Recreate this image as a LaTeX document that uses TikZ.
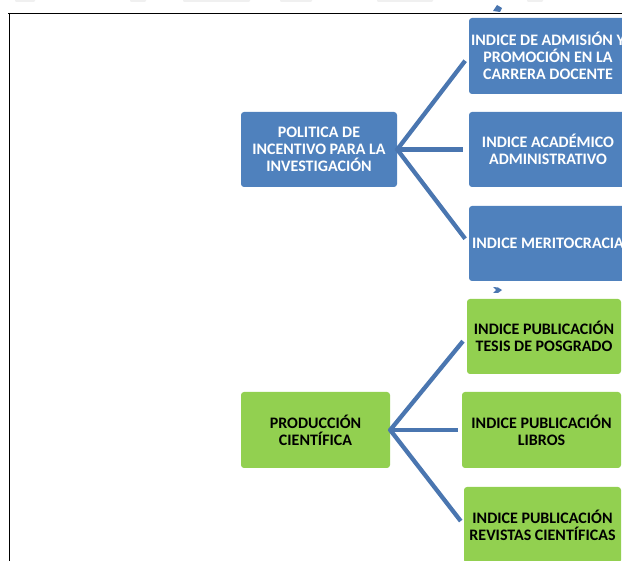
\documentclass[tikz,border=0pt]{standalone}
\usepackage{fontspec}
\setmainfont{Carlito}
\definecolor{boxblue}{HTML}{4F81BD}
\definecolor{boxgreen}{HTML}{92D050}
\definecolor{lineblue}{HTML}{4A76B0}
\tikzset{
  base/.style={rounded corners=3pt, align=center, inner sep=0pt,
    font=\fontsize{16}{17.2}\selectfont\bfseries},
  bluebox/.style={base, fill=boxblue, text=white},
  greenbox/.style={base, fill=boxgreen, text=black},
  conn/.style={draw=lineblue, line width=4.3pt},
  frame/.style={draw=black, line width=1.6pt},
  blob/.style={fill=gray!12, draw=none, rounded corners=1pt}
}
\begin{document}
\begin{tikzpicture}[x=1pt,y=-1pt]
\useasboundingbox (0,0) rectangle (622,561);
\begin{scope}
\clip (0,0) rectangle (622,561);
% faint fragments at the very top
\fill[blob] (15,-2) rectangle (35,2);
\fill[blob] (130,-2) rectangle (146,2);
\fill[blob] (183,-2) rectangle (250,2);
\fill[blob] (280,-2) rectangle (312,2);
\fill[blob] (377,-2) rectangle (433,2);
\fill[blob] (527,-2) rectangle (543,2);
% frame
\draw[frame] (8,13.5) -- (623,13.5);
\draw[frame] (9.5,13) -- (9.5,562);
% small arrow fragments
\fill[lineblue] (493,11) -- (497,5) -- (502,8) -- (500,12) -- cycle;
\fill[lineblue] (493,287) -- (498,287.5) -- (502,290) -- (498,293) -- (493,293) -- (496,290) -- cycle;
% nodes
\node[bluebox, minimum width=156pt, minimum height=75pt] (pol) at (319,149.5)
  {POLITICA DE\\INCENTIVO PARA LA\\INVESTIGACIÓN};
\node[bluebox, minimum width=158pt, minimum height=76pt] (b1) at (548,56)
  {INDICE DE ADMISIÓN Y\\PROMOCIÓN EN LA\\CARRERA DOCENTE};
\node[bluebox, minimum width=158pt, minimum height=75pt] (b2) at (548,149.5)
  {INDICE ACADÉMICO\\ADMINISTRATIVO};
\node[bluebox, minimum width=158pt, minimum height=75pt] (b3) at (548,243.5)
  {INDICE MERITOCRACIA};
\node[greenbox, minimum width=149pt, minimum height=76pt] (prod) at (315.5,430)
  {PRODUCCIÓN\\CIENTÍFICA};
\node[greenbox, minimum width=154pt, minimum height=75pt] (g1) at (544,336.5)
  {INDICE PUBLICACIÓN\\TESIS DE POSGRADO};
\node[greenbox, minimum width=159pt, minimum height=76pt] (g2) at (541.5,430)
  {INDICE PUBLICACIÓN\\LIBROS};
\node[greenbox, minimum width=157pt, minimum height=76pt] (g3) at (542.5,525)
  {INDICE PUBLICACIÓN\\REVISTAS CIENTÍFICAS};
% connectors
\draw[conn, shorten <=-1pt, shorten >=6pt] (pol.east) -- (b1.west);
\draw[conn, shorten <=-1pt, shorten >=6pt] (pol.east) -- (b2.west);
\draw[conn, shorten <=-1pt, shorten >=6pt] (pol.east) -- (b3.west);
\draw[conn, shorten <=-1pt, shorten >=6pt] (prod.east) -- (g1.west);
\draw[conn, shorten <=-1pt, shorten >=4pt] (prod.east) -- (g2.west);
\draw[conn, shorten <=-1pt, shorten >=5pt] (prod.east) -- (g3.west);
\end{scope}
\end{tikzpicture}
\end{document}
